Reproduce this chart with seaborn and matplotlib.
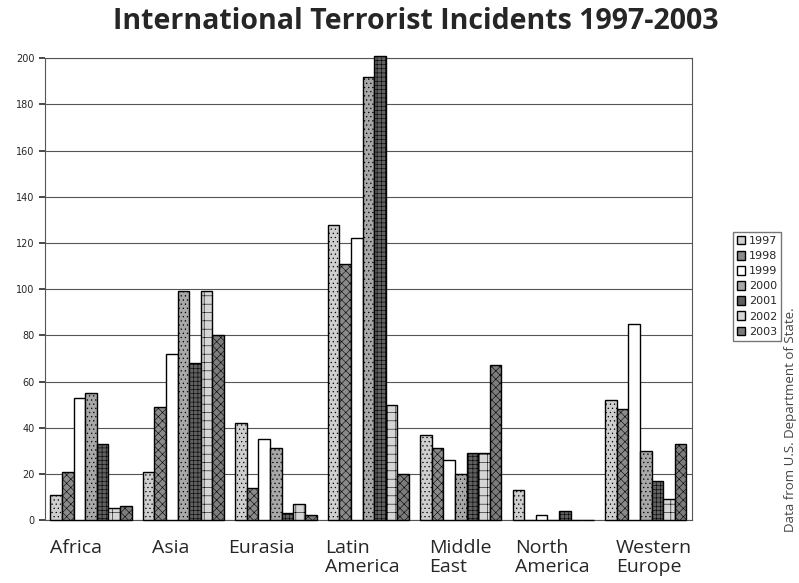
import matplotlib
matplotlib.use("Agg")
import matplotlib.pyplot as plt
import matplotlib.transforms as mtransforms
import pandas as pd
import seaborn as sns

# Incidents by region and year
regions = ["Africa", "Asia", "Eurasia", "Latin\nAmerica", "Middle\nEast",
           "North\nAmerica", "Western\nEurope"]
years = ["1997", "1998", "1999", "2000", "2001", "2002", "2003"]
africa = [11, 21, 53, 55, 33, 5, 6]
asia = [21, 49, 72, 99, 68, 99, 80]
eurasia = [42, 14, 35, 31, 3, 7, 2]
latin_america = [128, 111, 122, 192, 201, 50, 20]
middle_east = [37, 31, 26, 20, 29, 29, 67]
north_america = [13, 0, 2, 0, 4, 0, 0]
western_europe = [52, 48, 85, 30, 17, 9, 33]

values = [africa, asia, eurasia, latin_america, middle_east, north_america, western_europe]
rows = []
for reg, vals in zip(regions, values):
    for yr, v in zip(years, vals):
        rows.append({"Region": reg, "Year": yr, "Incidents": v})
df = pd.DataFrame(rows)

sns.set_theme(style="white")
plt.rcParams['font.family'] = ['Open Sans', 'DejaVu Sans']
plt.rcParams['hatch.linewidth'] = 0.4

fills = ["#cfcfcf", "#8a8a8a", "#ffffff", "#a8a8a8", "#606060", "#d6d6d6", "#7c7c7c"]
hatches = ["....", "xxxx", "", "....", "++++", "++", "xxxx"]

fig = plt.figure(figsize=(7.99, 5.83), dpi=100)
ax = fig.add_axes([0.056, 0.108, 0.81, 0.792])

sns.barplot(data=df, x="Region", y="Incidents", hue="Year", order=regions,
            hue_order=years, palette=fills, width=0.88, edgecolor="black",
            linewidth=1.0, ax=ax, zorder=3)

for cont, h in zip(ax.containers, hatches):
    for bar in cont:
        bar.set_hatch(h)
        bar.set_clip_on(False)

ax.set_ylim(0, 200)
ax.set_yticks(range(0, 201, 20))
ax.yaxis.grid(True, color="#555555", linewidth=0.8, zorder=0)
ax.set_axisbelow(True)
ax.tick_params(axis="y", labelsize=7, length=4, color="#333333", left=True)
for lab in ax.get_yticklabels():
    lab.set_family("DejaVu Sans")
ax.set_xlabel("")
ax.set_ylabel("")
for s in ax.spines.values():
    s.set_color("#555555")
    s.set_linewidth(0.8)

# Left-aligned two-line category labels, nudged like the original
ax.tick_params(axis="x", length=0, labelsize=14, pad=14)
shifts = [-41, -31, -48, -43, -32, -38, -30]
for lab, dx in zip(ax.get_xticklabels(), shifts):
    offset = mtransforms.ScaledTranslation(dx / 100, 0, fig.dpi_scale_trans)
    lab.set_horizontalalignment("left")
    lab.set_multialignment("left")
    lab.set_verticalalignment("top")
    lab.set_linespacing(1.05)
    lab.set_transform(lab.get_transform() + offset)

fig.suptitle("International Terrorist Incidents 1997-2003", fontsize=20.5,
             fontweight="bold", x=0.521, y=0.988)

leg = ax.legend(loc="upper left", bbox_to_anchor=(0.917, 0.602),
                bbox_transform=fig.transFigure, fontsize=8, frameon=True,
                fancybox=False, edgecolor="#555555", handlelength=0.8,
                handleheight=0.8, handletextpad=0.3, borderpad=0.35,
                labelspacing=0.45, borderaxespad=0)
for t in leg.get_texts():
    t.set_family("DejaVu Sans")

fig.text(0.989, 0.28, "Data from U.S. Department of State.", rotation=90,
         ha="center", va="center", fontsize=9.5, color="#444444")

fig.savefig("out.png", dpi=100)
